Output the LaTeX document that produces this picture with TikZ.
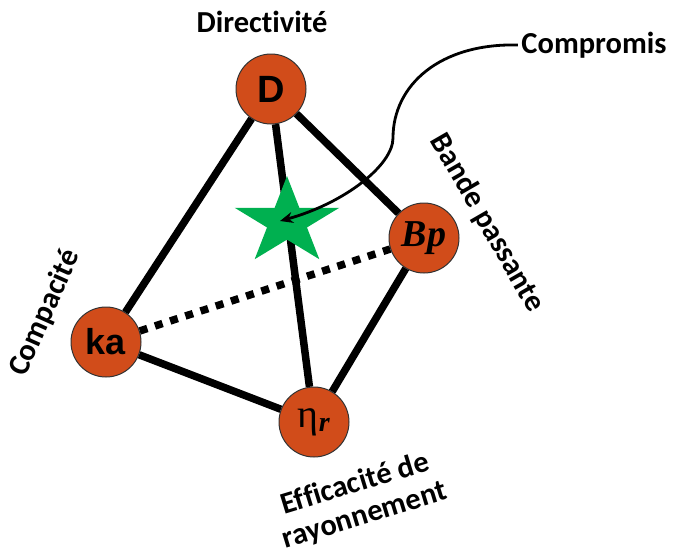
\documentclass[tikz,border=0pt]{standalone}
\usepackage{fontspec}
\setmainfont[Ligatures=NoCommon,RawFeature=-liga]{Carlito}
\newfontfamily\arialfont{Liberation Sans}
\newfontfamily\timesfont{Liberation Serif}
\usetikzlibrary{arrows.meta,positioning,calc}
\definecolor{vertexOrange}{RGB}{209,76,26}
\definecolor{starGreen}{RGB}{0,176,80}

\begin{document}
\begin{tikzpicture}[x=1pt,y=-1pt,
  vertex/.style={circle,draw=black!80,line width=1pt,fill=vertexOrange,minimum size=70pt,inner sep=0pt},
  txt/.style={font=\fontsize{30.5}{33}\selectfont\bfseries,align=center},
  side/.style={line width=7.5pt},
  hidden/.style={line width=7.5pt,dash pattern=on 8pt off 8pt}]
\useasboundingbox (0,0) rectangle (675,558);
% sommets
\node[vertex] (D) at (271,89) {\arialfont\bfseries\fontsize{38}{40}\selectfont D};
\node[vertex] (Bp) at (424,238) {\timesfont\bfseries\itshape\fontsize{38}{40}\selectfont Bp};
\node[vertex] (ka) at (106,342) {\arialfont\bfseries\fontsize{36}{40}\selectfont ka};
\node[vertex] (eta) at (314,422) {\timesfont\fontsize{40}{44}\selectfont η\textsubscript{\bfseries\itshape r}};
% aretes
\path[side] 
(D) edge (ka) (D) edge (Bp) (D) edge (eta)
(ka) edge (eta) (eta) edge (Bp)
;
\draw[hidden] (ka) -- (Bp);
% compromis
\coordinate (star) at (287,222);
\fill[starGreen] ($(star)+(-90:55 and 46)$) 
  \foreach \k in {0,...,4} { -- ($(star)+({-54+72*\k}:21 and 17.6)$) -- ($(star)+({-18+72*\k}:55 and 46)$) } -- cycle;
% textes
\node[txt] (dir) at (262,22) {Directivité};
\node[txt] (comp) at (594,45) {Compromis};
\node[txt,rotate=66] (compact) at (45,313) {Compacité};
\node[txt,rotate=-60] (band) at (487,223) {Bande passante};
\node[txt,rotate=17] (eff) at (360,500) {Efficacité de\\rayonnement};
\coordinate (tip) at (280,221);
\draw[line width=2.8pt,-{Stealth[length=13pt,width=11pt]}] (comp.west) .. controls (440,43) and (393,85) .. (393,138) .. controls (393,165) and (345,203) .. (tip);
\end{tikzpicture}
\end{document}
